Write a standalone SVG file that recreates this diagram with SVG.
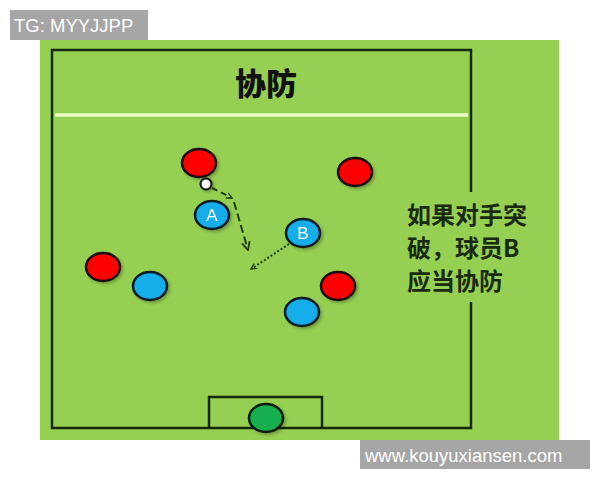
<svg xmlns="http://www.w3.org/2000/svg" width="600" height="480" viewBox="0 0 600 480">
<style>
.field{fill:none;stroke:#142a0c;stroke-width:2.5}
.red{fill:#ff0000;stroke:#1a0a0a;stroke-width:2.5}
.blue{fill:#12aeea;stroke:#0a1a22;stroke-width:2.5}
.gk{fill:#16b050;stroke:#0a1a0a;stroke-width:2.5}
.lbl{font-family:"Liberation Sans",Arial,sans-serif;font-size:17px;fill:#ffffff;text-anchor:middle}
.wm{font-family:"Liberation Sans",Arial,sans-serif;font-size:18.5px;fill:#ffffff}
.note{font-family:"Noto Sans CJK SC",sans-serif;font-size:24px;font-weight:700;fill:#1a2a10}
.conn{fill:none;stroke:#1e3a12;stroke-width:2}
</style>
<defs>
<filter id="sh" x="-30%" y="-30%" width="170%" height="170%">
<feDropShadow dx="2" dy="2" stdDeviation="1.5" flood-color="#000" flood-opacity="0.25"/>
</filter>
<marker id="ah" viewBox="0 0 10 10" refX="9" refY="5" markerWidth="7" markerHeight="7" orient="auto" markerUnits="userSpaceOnUse">
<path d="M1,1 L9,5 L1,9" fill="none" stroke="#1e3a12" stroke-width="1.8"/>
</marker>
<marker id="ah2" viewBox="0 0 10 10" refX="9" refY="5" markerWidth="10" markerHeight="10" orient="auto" markerUnits="userSpaceOnUse">
<path d="M1,1 L9,5 L1,9" fill="none" stroke="#1e3a12" stroke-width="1.8"/>
</marker>
</defs>
<rect width="600" height="480" fill="#ffffff"/>
<rect x="40" y="40" width="519" height="400" fill="#95d052"/>
<g id="field">
<polyline class="field" points="471,192 471,50 52,50 52,428 471,428 471,302"/>
<polyline class="field" points="209,428 209,397 322,397 322,428"/>
<line x1="55" y1="115" x2="468" y2="115" stroke="#eefcc8" stroke-width="3.5"/>
</g>
<g id="title">
<text x="266" y="95" text-anchor="middle" font-family="'Noto Sans CJK SC',sans-serif" font-size="31" font-weight="900" fill="#111111">协防</text>
</g>
<g id="connectors">
<path class="conn" d="M212,188 L232,198" stroke-dasharray="6,4" marker-end="url(#ah)"/>
<path class="conn" d="M234,202 L248,250" stroke-dasharray="8,4" marker-end="url(#ah2)"/>
<path class="conn" d="M289,244 L251,269" stroke-dasharray="2,2" stroke-width="1.6" marker-end="url(#ah)"/>
</g>
<g id="red-top" filter="url(#sh)"><ellipse class="red" cx="199" cy="163" rx="17" ry="14"/></g>
<g id="ball" filter="url(#sh)"><circle cx="206" cy="184" r="5.5" fill="#ffffff" stroke="#111" stroke-width="2"/></g>
<g id="player-A" filter="url(#sh)"><ellipse class="blue" cx="212" cy="215" rx="17" ry="14"/><text class="lbl" x="212" y="221">A</text></g>
<g id="player-B" filter="url(#sh)"><ellipse class="blue" cx="303" cy="233" rx="17" ry="14"/><text class="lbl" x="303" y="239">B</text></g>
<g id="red-right" filter="url(#sh)"><ellipse class="red" cx="355" cy="172" rx="17" ry="14"/></g>
<g id="red-left" filter="url(#sh)"><ellipse class="red" cx="103" cy="267" rx="17" ry="14"/></g>
<g id="blue-left" filter="url(#sh)"><ellipse class="blue" cx="150" cy="286" rx="17" ry="14"/></g>
<g id="red-low" filter="url(#sh)"><ellipse class="red" cx="338" cy="286" rx="17" ry="14"/></g>
<g id="blue-low" filter="url(#sh)"><ellipse class="blue" cx="302" cy="312" rx="17" ry="14"/></g>
<g id="goalkeeper" filter="url(#sh)"><ellipse class="gk" cx="266" cy="418" rx="17" ry="14"/></g>
<g id="note">
<text class="note" x="407" y="224">如果对手突</text>
<text class="note" x="407" y="257">破，球员B</text>
<text class="note" x="407" y="290">应当协防</text>
</g>
<g id="watermark-top">
<rect x="10" y="10" width="138" height="30" fill="#a6a6a6"/>
<text class="wm" x="14" y="32">TG: MYYJJPP</text>
</g>
<g id="watermark-bottom">
<rect x="360" y="440" width="230" height="29" fill="#a6a6a6"/>
<text class="wm" x="365" y="462">www.kouyuxiansen.com</text>
</g>
</svg>
